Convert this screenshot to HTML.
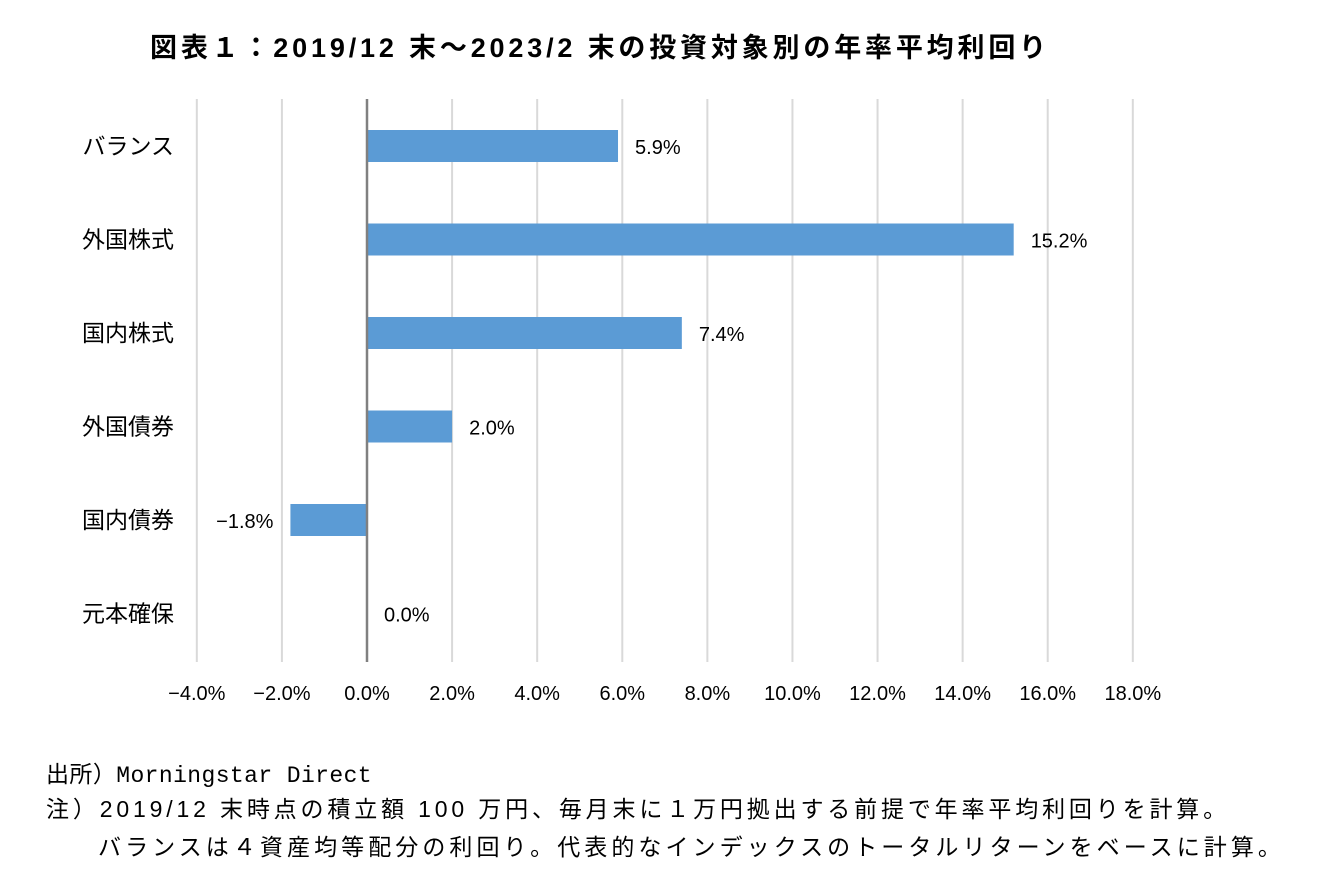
<!DOCTYPE html>
<html><head><meta charset="utf-8"><style>
body{margin:0;background:#fff;width:1327px;height:880px;overflow:hidden;font-family:"Liberation Sans","Noto Sans CJK JP",sans-serif;}
.t{position:absolute;white-space:nowrap;color:#000;}
</style></head><body>
<div class="t fit" data-w="900" style="left:150px;top:26px;font-size:27px;font-weight:bold;">図表１：2019/12 末～2023/2 末の投資対象別の年率平均利回り</div>
<svg id="chart" width="1327" height="740" style="position:absolute;left:0;top:0" font-family="Liberation Sans, Noto Sans CJK JP, sans-serif"></svg>
<div class="t fit" data-w="326" style="left:46px;top:755px;font-size:23px;">出所）<span style="font-family:'Liberation Mono',monospace">Morningstar Direct</span></div>
<div class="t fit" data-w="1184" style="left:46px;top:790px;font-size:23px;">注）2019/12 末時点の積立額 100 万円、毎月末に１万円拠出する前提で年率平均利回りを計算。</div>
<div class="t fit" data-w="1187" style="left:98px;top:828px;font-size:23px;">バランスは４資産均等配分の利回り。代表的なインデックスのトータルリターンをベースに計算。</div>
<script>
const categories=["バランス","外国株式","国内株式","外国債券","国内債券","元本確保"];
const values=[5.9,15.2,7.4,2.0,-1.8,0.0];
const labels=["5.9%","15.2%","7.4%","2.0%","−1.8%","0.0%"];
const ticks=[-4,-2,0,2,4,6,8,10,12,14,16,18];
const tickLabels=["−4.0%","−2.0%","0.0%","2.0%","4.0%","6.0%","8.0%","10.0%","12.0%","14.0%","16.0%","18.0%"];
const svg=document.getElementById('chart');
const NS='http://www.w3.org/2000/svg';
const x=v=>367+(v)*(1133-197)/22;
const yc=i=>146+i*93.5;
function mk(tag,attrs,txt){const e=document.createElementNS(NS,tag);for(const k in attrs)e.setAttribute(k,attrs[k]);if(txt!==undefined)e.textContent=txt;svg.appendChild(e);return e;}
ticks.forEach((t,i)=>{
 if(t!==0){const g=mk('line',{x1:x(t),x2:x(t),y1:99,y2:662,stroke:'#d9d9d9','stroke-width':2});
 
 }
 const tl=mk('text',{x:x(t),y:700,'font-size':20,'text-anchor':'middle'},tickLabels[i]);
 
 
});
categories.forEach((c,i)=>{
 const v=values[i];
 const b=mk('rect',{x:Math.min(x(0),x(v)),y:yc(i)-16,width:Math.abs(x(v)-x(0)),height:32,fill:'#5b9bd5'});
 
 
 const cl=mk('text',{x:174,y:yc(i)+8,'font-size':23,'text-anchor':'end'},c);
 
 
 const vx=v>=0?x(v)+17:x(v)-17;
 const vl=mk('text',{x:vx,y:yc(i)+8,'font-size':20,'text-anchor':v>=0?'start':'end'},labels[i]);
 
 
});
const ax=mk('line',{x1:x(0),x2:x(0),y1:99,y2:662,stroke:'#808080','stroke-width':2.5});


document.querySelectorAll('.fit').forEach(el=>{
 const target=+el.dataset.w;const w=el.getBoundingClientRect().width;
 const n=el.textContent.length;
 el.style.letterSpacing=((target-w)/n)+'px';
});
</script>
</body></html>
